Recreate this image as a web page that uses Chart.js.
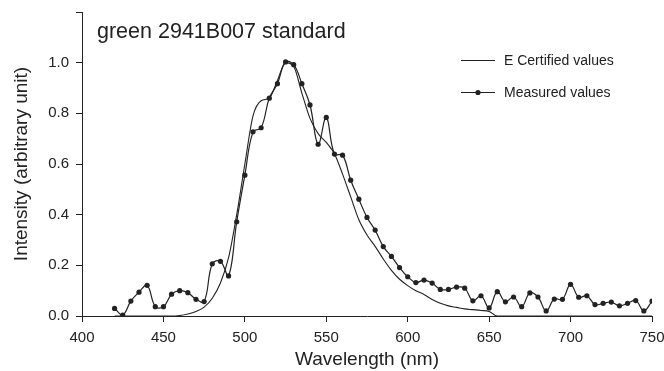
<!DOCTYPE html>
<html>
<head>
<meta charset="utf-8">
<script src="https://cdn.jsdelivr.net/npm/chart.js@4.4.1/dist/chart.umd.min.js"></script>
<style>
  html, body { margin: 0; padding: 0; background: #fff; }
  #wrap { width: 664px; height: 371px; }
</style>
</head>
<body>
<div id="wrap"><canvas id="c" width="664" height="371"></canvas></div>
<script>
// wavelengths (nm), 5 nm steps
const wavelengths = [420,425,430,435,440,445,450,455,460,465,470,475,480,485,490,495,500,505,510,515,
  520,525,530,535,540,545,550,555,560,565,570,575,580,585,590,595,600,605,610,615,
  620,625,630,635,640,645,650,655,660,665,670,675,680,685,690,695,700,705,710,715,
  720,725,730,735,740,745,750];

const certified = [0,0,0,0,0,0,0,0,0.002,0.008,0.018,0.035,0.07,0.13,0.23,0.40,0.60,0.79,0.85,0.86,
  0.93,1.0,0.985,0.88,0.78,0.72,0.685,0.64,0.56,0.47,0.38,0.32,0.275,0.225,0.18,0.145,0.12,0.10,0.085,0.065,
  0.05,0.04,0.034,0.028,0.025,0.022,0.018,0,0,0,0,0,0,0,0,0,0,0,0,0,
  0,0,0,0,0,0,0];

const measured = [0.030,0.004,0.059,0.094,0.121,0.037,0.037,0.086,0.100,0.092,0.066,0.057,0.206,0.216,0.158,0.372,0.556,0.727,0.743,0.860,
  0.917,1.003,0.992,0.917,0.833,0.678,0.784,0.639,0.635,0.536,0.461,0.389,0.339,0.274,0.235,0.191,0.155,0.132,0.142,0.130,
  0.105,0.105,0.114,0.110,0.060,0.080,0.032,0.096,0.056,0.075,0.037,0.091,0.075,0.020,0.067,0.066,0.125,0.074,0.080,0.045,
  0.050,0.055,0.040,0.050,0.061,0.020,0.059];

const yTicks = [0.0,0.2,0.4,0.6,0.8,1.0];

const ink = '#222';
const font = 'Arial, "Liberation Sans", sans-serif';

const overlay = {
  id: 'overlay',
  afterDraw(chart) {
    const ctx = chart.ctx;
    ctx.save();
    ctx.fillStyle = ink;
    ctx.strokeStyle = ink;
    ctx.textBaseline = 'alphabetic';
    ctx.textAlign = 'left';
    ctx.font = '21.5px ' + font;
    ctx.fillText('green 2941B007 standard', 97, 38);

    // legend
    ctx.font = '14px ' + font;
    ctx.lineWidth = 1.2;
    const ds = chart.data.datasets;
    const rows = [60.5, 92.5];
    ds.forEach((d, i) => {
      const y = rows[i];
      ctx.beginPath();
      ctx.moveTo(461, y);
      ctx.lineTo(495, y);
      ctx.stroke();
      if (d.pointRadius > 0) {
        ctx.beginPath();
        ctx.arc(478, y, 2.6, 0, Math.PI * 2);
        ctx.fill();
      }
      ctx.fillText(d.label, 504, y + 4.5);
    });
    ctx.restore();
  }
};

new Chart(document.getElementById('c'), {
  type: 'line',
  data: {
    datasets: [{
      label: 'E Certified values',
      data: wavelengths.map((w, i) => ({ x: w, y: certified[i] })),
      borderColor: ink,
      borderWidth: 1.1,
      pointRadius: 0,
      cubicInterpolationMode: 'monotone',
      fill: false
    }, {
      label: 'Measured values',
      data: wavelengths.map((w, i) => ({ x: w, y: measured[i] })),
      borderColor: ink,
      backgroundColor: ink,
      borderWidth: 1.2,
      pointRadius: 2.6,
      pointBorderWidth: 0,
      tension: 0.4,
      fill: false
    }]
  },
  options: {
    responsive: false,
    animation: false,
    layout: { padding: { top: 12, right: 12, left: 0, bottom: 0 } },
    plugins: { legend: { display: false }, title: { display: false }, tooltip: { enabled: false } },
    scales: {
      x: {
        type: 'linear',
        min: 400, max: 750,
        afterFit(scale) { scale.height = 55; scale.paddingRight = 0; scale.paddingLeft = 0; },
        ticks: { stepSize: 50, color: ink, font: { size: 15, family: font }, padding: 7, maxRotation: 0 },
        grid: { drawOnChartArea: false, tickLength: 6, color: ink },
        border: { display: true, color: ink, width: 1 },
        title: { display: true, text: 'Wavelength (nm)', color: ink, font: { size: 19, family: font }, padding: { top: 0, bottom: 0 } }
      },
      y: {
        min: 0, max: 1.2,
        afterFit(scale) { scale.width = 82; scale.paddingTop = 0; scale.paddingBottom = 0; },
        afterBuildTicks(scale) {
          scale.ticks = yTicks.concat([1.2]).map(v => ({ value: v }));
        },
        ticks: {
          color: ink, font: { size: 15, family: font }, padding: 7,
          callback: v => (yTicks.some(t => Math.abs(t - v) < 1e-6) ? v.toFixed(1) : '')
        },
        grid: { drawOnChartArea: false, tickLength: 6, color: ink },
        border: { display: true, color: ink, width: 1 },
        title: { display: true, text: 'Intensity (arbitrary unit)', color: ink, font: { size: 19, family: font }, padding: { top: 10, bottom: 0 } }
      }
    }
  },
  plugins: [overlay]
});
</script>
</body>
</html>
